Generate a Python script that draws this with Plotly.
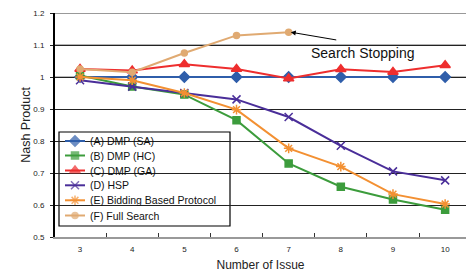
import plotly.graph_objects as go

issues = [3, 4, 5, 6, 7, 8, 9, 10]
dmp_sa = [1.0, 1.0, 1.0, 1.0, 1.0, 1.0, 1.0, 1.0]
dmp_hc = [1.005, 0.97, 0.945, 0.865, 0.73, 0.657, 0.617, 0.585]
dmp_ga = [1.025, 1.02, 1.04, 1.025, 0.995, 1.024, 1.016, 1.037]
hsp = [0.99, 0.97, 0.95, 0.93, 0.875, 0.785, 0.705, 0.677]
bidding = [1.0, 0.99, 0.95, 0.898, 0.777, 0.72, 0.634, 0.603]
full_issues = [3, 4, 5, 6, 7]
full_search = [1.025, 1.015, 1.075, 1.13, 1.14]

series = [
    ("(A) DMP (SA)", issues, dmp_sa, "#2F5EAA", "diamond", 8),
    ("(B) DMP (HC)", issues, dmp_hc, "#3C9C3C", "square", 7),
    ("(C) DMP (GA)", issues, dmp_ga, "#EE2E2E", "triangle-up", 9),
    ("(D) HSP", issues, hsp, "#4A2E99", "x-thin-open", 8),
    ("(E) Bidding Based Protocol", issues, bidding, "#F39032", "asterisk-open", 8),
    ("(F) Full Search", full_issues, full_search, "#E0AA72", "circle", 6),
]

# plot area in pixels
L, R, T, B = 55, 466, 13, 237
W, H = 466, 275

def px(x):
    return (x - L) / (R - L)

def py(y):
    return 1 - (y - T) / (B - T)

fig = go.Figure()
for name, xs, ys, col, sym, sz in series:
    fig.add_trace(go.Scatter(
        x=xs, y=ys, name=name, mode="lines+markers",
        line=dict(color=col, width=2),
        marker=dict(symbol=sym, size=sz, color=col, line=dict(color=col, width=1.5)),
        showlegend=False,
    ))

font = "Liberation Sans, Arial, sans-serif"

# custom legend (box, keys, labels) drawn on a pixel-space overlay axis
leg_x0, leg_x1, leg_y0, leg_y1 = 59, 230, 132, 226
row_y = [141, 155.5, 170.5, 185.3, 200.3, 215.5]
annotations = []
for (name, xs, ys, col, sym, sz), ry in zip(series, row_y):
    fig.add_trace(go.Scatter(
        x=[65, 75, 85], y=[ry, ry, ry], xaxis="x2", yaxis="y2", mode="lines+markers",
        line=dict(color=col, width=2),
        marker=dict(symbol=sym, size=[0, sz, 0], color=col, line=dict(color=col, width=1.5)),
        showlegend=False, hoverinfo="skip",
    ))
    annotations.append(dict(x=88, y=ry, xref="x2", yref="y2", text=name, showarrow=False,
                            xanchor="left", yanchor="middle",
                            font=dict(size=10.5, family=font, color="#111")))

annotations += [
    dict(x=7.04, y=1.14, xref="x", yref="y", text="", showarrow=True,
         ax=47, ay=8, arrowhead=2, arrowsize=1, arrowwidth=1, arrowcolor="black"),
    dict(x=px(363), y=py(53), xref="paper", yref="paper", text="Search Stopping",
         showarrow=False, xanchor="center", yanchor="middle",
         font=dict(size=14, family=font, color="#111")),
]

fig.update_layout(
    width=W, height=H,
    margin=dict(l=L, r=W - R, t=T, b=H - B),
    plot_bgcolor="white", paper_bgcolor="white",
    font=dict(family=font, size=8, color="#222"),
    showlegend=False,
    xaxis=dict(range=[2.52, 10.40], tickvals=issues, ticktext=[str(i) for i in issues],
               showgrid=False, zeroline=False, showline=True, linecolor="#999", linewidth=2,
               ticks="", ticklabelstandoff=3,
               minor=dict(tickvals=[3.5, 4.5, 5.5, 6.5, 7.5, 8.5, 9.5], ticks="inside",
                          ticklen=4, tickcolor="#333", tickwidth=1),
               title=dict(text="Number of Issue", font=dict(size=12, family=font, color="#222"),
                          standoff=8)),
    yaxis=dict(range=[0.5, 1.2], tickvals=[0.5, 0.6, 0.7, 0.8, 0.9, 1.0, 1.1, 1.2],
               ticktext=["0.5", "0.6", "0.7", "0.8", "0.9", "1", "1.1", "1.2"],
               showgrid=True, gridcolor="#222", gridwidth=1, zeroline=False,
               showline=True, linecolor="black", linewidth=2,
               ticks="outside", ticklen=3, tickcolor="#222", tickwidth=1, ticklabelstandoff=4,
               title=dict(text="Nash Product", font=dict(size=12.5, family=font, color="#222"),
                          standoff=0)),
    xaxis2=dict(overlaying="x", range=[L, R], visible=False, anchor="y2", fixedrange=True),
    yaxis2=dict(overlaying="y", range=[B, T], visible=False, anchor="x2", fixedrange=True),
    shapes=[
        dict(type="line", xref="paper", yref="y", x0=0, x1=1, y0=1.2, y1=1.2,
             line=dict(color="#999", width=2)),
        dict(type="line", xref="paper", yref="y", x0=0, x1=1, y0=1.1, y1=1.1,
             line=dict(color="#666", width=1), layer="between"),
        dict(type="line", xref="paper", yref="y", x0=0, x1=1, y0=1.0, y1=1.0,
             line=dict(color="#777", width=1), layer="between"),
        dict(type="rect", xref="paper", yref="paper", x0=px(leg_x0), x1=px(leg_x1),
             y0=py(leg_y1), y1=py(leg_y0), fillcolor="white",
             line=dict(color="black", width=1.2), layer="between"),
    ],
    annotations=annotations,
)
fig.write_html("out.html", config={"displayModeBar": False},
               post_script="document.body.style.margin='0';")
